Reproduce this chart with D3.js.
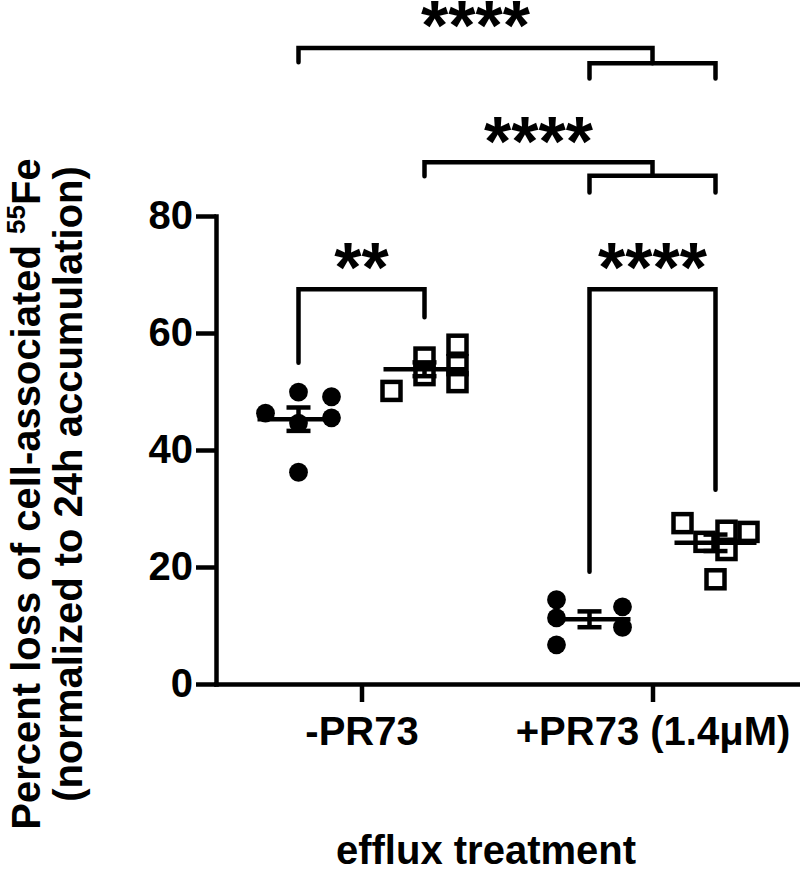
<!DOCTYPE html>
<html><head><meta charset="utf-8">
<script src="https://cdn.jsdelivr.net/npm/d3@7/dist/d3.min.js"></script>
<style>
body{margin:0;background:#fff}
text{font-family:"Liberation Sans",Arial,sans-serif;font-weight:bold;fill:#000}
</style>
</head><body>
<svg id="chart" width="800" height="875"></svg>
<script>
// ---- data ----
const treatments = ["-PR73", "+PR73 (1.4μM)"];
const seriesNames = ["filled circles", "open squares"];
const minusCircles = [49.9, 49.1, 46.3, 45.5, 44.6, 36.2];
const minusSquares = [58.0, 55.8, 54.5, 52.8, 51.6, 50.1];
const plusCircles  = [14.4, 13.2, 11.3, 9.7, 6.7];
const plusSquares  = [27.5, 26.2, 26.0, 24.3, 22.9, 17.9];
// scatter column rank of each point inside its group (as arranged in the picture)
const minusCircleRank = [0, 3, -3, 3, 0, 0];
const minusSquareRank = [3, 0, 3, 0, 3, -3];
const plusCircleRank  = [-3, 3, -3, 3, -3];
const plusSquareRank  = [-3, 1, 3, -1, 1, 0];
const yTicks = [0, 20, 40, 60, 80];
const sigLabels = ["****", "****", "**", "****"];
const xTitle = "efflux treatment";
const yTitle1 = "Percent loss of cell-associated ";
const yTitleSup = "55";
const yTitleEl = "Fe";
const yTitle2 = "(normalized to 24h accumulation)";

const groups = [
  {t: treatments[0], s: seriesNames[0], v: minusCircles, r: minusCircleRank},
  {t: treatments[0], s: seriesNames[1], v: minusSquares, r: minusSquareRank},
  {t: treatments[1], s: seriesNames[0], v: plusCircles,  r: plusCircleRank},
  {t: treatments[1], s: seriesNames[1], v: plusSquares,  r: plusSquareRank}
];

const svg = d3.select("#chart");
const SW = 4.5;

const y = d3.scaleLinear().domain([0, 80]).range([684, 216]);
const x0 = d3.scalePoint().domain(treatments).range([216, 798]).padding(0.5);
const x1 = d3.scalePoint().domain(seriesNames).range([-63, 63]);
const jit = d3.scaleLinear().domain([-3, 3]).range([-33, 33]);
const gx = g => x0(g.t) + x1(g.s);

// ---- axes ----
const yAxis = svg.append("g").attr("transform", "translate(216,0)")
  .call(d3.axisLeft(y).tickValues(yTicks).tickSize(20).tickSizeOuter(0).tickPadding(3));
const xAxis = svg.append("g").attr("transform", "translate(0,684)")
  .call(d3.axisBottom(x0).tickSize(18).tickSizeOuter(0).tickPadding(15));
[yAxis, xAxis].forEach(a => {
  a.selectAll("path.domain").attr("stroke", "#000").attr("stroke-width", SW).attr("stroke-linecap", "square");
  a.selectAll(".tick line").attr("stroke", "#000").attr("stroke-width", SW);
  a.selectAll(".tick text").attr("font-size", 40).attr("font-family", null).attr("fill", "#000");
});

// ---- points ----
groups.forEach((g, gi) => {
  const cx = gx(g);
  const gp = svg.append("g");
  g.v.forEach((val, i) => {
    const px = cx + jit(g.r[i]);
    if (g.s === seriesNames[0]) {
      gp.append("circle").attr("cx", px).attr("cy", y(val)).attr("r", 9.4).attr("fill", "#000");
    } else {
      gp.append("rect").attr("x", px - 9).attr("y", y(val) - 9).attr("width", 18).attr("height", 18)
        .attr("fill", "none").attr("stroke", "#000").attr("stroke-width", SW);
    }
  });
  const m = d3.mean(g.v);
  const sem = d3.deviation(g.v) / Math.sqrt(g.v.length);
  gp.append("line").attr("x1", cx - 41).attr("x2", cx + 41).attr("y1", y(m)).attr("y2", y(m))
    .attr("stroke", "#000").attr("stroke-width", SW);
  gp.append("line").attr("x1", cx).attr("x2", cx).attr("y1", y(m - sem)).attr("y2", y(m + sem))
    .attr("stroke", "#000").attr("stroke-width", SW);
  [m - sem, m + sem].forEach(e => gp.append("line").attr("x1", cx - 12).attr("x2", cx + 12)
    .attr("y1", y(e)).attr("y2", y(e)).attr("stroke", "#000").attr("stroke-width", SW));
});

// ---- significance brackets ----
const c = groups.map(gx);
const br = svg.append("g").attr("fill", "none").attr("stroke", "#000").attr("stroke-width", SW)
  .attr("stroke-linejoin", "miter").attr("stroke-linecap", "round");
const P = pts => d3.line()(pts.map(p => [p[0], y(p[1])]));
const midR = (c[2] + c[3]) / 2;
// pair brackets
br.append("path").attr("d", P([[c[0], 54.9], [c[0], 67.5], [c[1], 67.5], [c[1], 62.7]]));
br.append("path").attr("d", P([[c[2], 19.2], [c[2], 67.5], [c[3], 67.5], [c[3], 33.2]]));
// nested brackets
br.append("path").attr("d", P([[c[1], 86.8], [c[1], 89.2], [midR, 89.2], [midR, 86.9]]));
br.append("path").attr("d", P([[c[2], 84.0], [c[2], 86.9], [c[3], 86.9], [c[3], 84.0]]));
br.append("path").attr("d", P([[c[0], 106.3], [c[0], 108.7], [midR, 108.7], [midR, 106.1]]));
br.append("path").attr("d", P([[c[2], 103.5], [c[2], 106.1], [c[3], 106.1], [c[3], 103.5]]));

const star = (txt, x, v) => svg.append("text").attr("x", x).attr("y", y(v))
  .attr("text-anchor", "middle").attr("font-size", 70).text(txt);
star(sigLabels[0], (c[0] + midR) / 2, 108.4);
star(sigLabels[1], (c[1] + midR) / 2, 88.6);
star(sigLabels[2], (c[0] + c[1]) / 2, 67.0);
star(sigLabels[3], (c[2] + c[3]) / 2, 67.0);

// ---- titles ----
svg.append("text").attr("x", 486).attr("y", 864).attr("text-anchor", "middle")
  .attr("font-size", 40).text(xTitle);
const yt = svg.append("text").attr("transform", "translate(40,494) rotate(-90)")
  .attr("text-anchor", "middle").attr("font-size", 40);
yt.append("tspan").text(yTitle1);
yt.append("tspan").attr("font-size", 26).attr("dy", -15).text(yTitleSup);
yt.append("tspan").attr("dy", 15).text(yTitleEl);
svg.append("text").attr("transform", "translate(82,484) rotate(-90)")
  .attr("text-anchor", "middle").attr("font-size", 40).text(yTitle2);
</script>
</body></html>
